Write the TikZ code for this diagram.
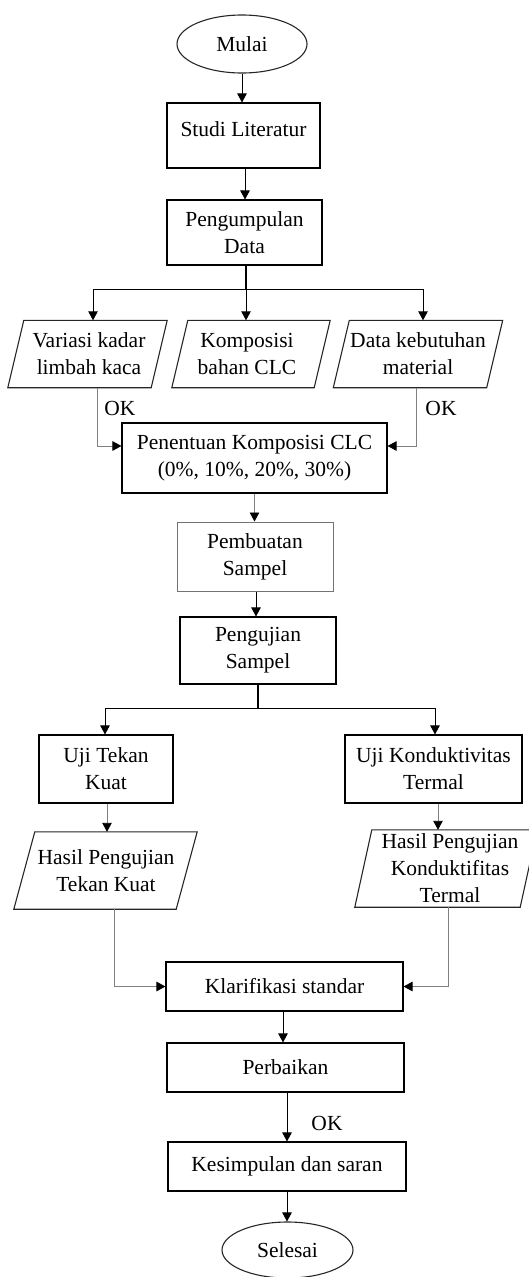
\documentclass[tikz,border=0pt]{standalone}
\usepackage{fontspec}
\setmainfont{Liberation Serif}
\usetikzlibrary{shapes.geometric,arrows.meta}
\newcommand\drawpara[3]{\draw[para] ([xshift=#2+#3]#1.north west) -- ([xshift=#3]#1.north east) -- ([xshift=#3-#2]#1.south east) -- ([xshift=#3]#1.south west) -- cycle;}
\begin{document}
\begin{tikzpicture}[x=1pt,y=-1pt,
  every node/.style={font=\fontsize{21.5}{27}\selectfont, align=center, inner sep=0pt},
  box/.style={draw=black, line width=1.1pt, rectangle},
  gbox/.style={draw=black!55, line width=1pt, rectangle},
  oval/.style={draw=black!85, line width=1.1pt, ellipse, minimum width=130pt, minimum height=58pt},
  pnode/.style={rectangle, draw=none},
  para/.style={draw=black!85, line width=1.1pt},
  tip/.style={-{Triangle[width=9.5pt,length=9pt,color=black]}},
  arr/.style={tip, line width=0.9pt, draw=black},
  garr/.style={tip, line width=0.9pt, draw=black!50},
  thickline/.style={line width=2.2pt, draw=black},
  hline/.style={line width=1.1pt, draw=black}
]
\useasboundingbox (0,0) rectangle (529,1277);

% main column
\node[oval] (mulai) at (242,44) {Mulai};
\node[box, minimum width=153pt, minimum height=65pt, text depth=13pt] (studi) at (243.5,135.5) {Studi Literatur};
\node[box, minimum width=155pt, minimum height=65pt] (peng) at (244.5,232.5) {Pengumpulan\\Data};

% parallelograms row 1
\node[pnode, minimum width=159pt, minimum height=67pt] (v1) at (89,354) {Variasi kadar\\limbah kaca};
\drawpara{v1}{16}{-1.5}
\node[pnode, minimum width=158pt, minimum height=67pt] (v2) at (247,354) {Komposisi\\bahan CLC};
\drawpara{v2}{16}{4}
\node[pnode, minimum width=169pt, minimum height=67pt] (v3) at (418,354) {Data kebutuhan\\material};
\drawpara{v3}{16}{0}

\node[box, minimum width=265pt, minimum height=70pt] (pen) at (254.5,458) {Penentuan Komposisi CLC\\(0\%, 10\%, 20\%, 30\%)};
\node[gbox, minimum width=156pt, minimum height=69pt] (pemb) at (255,556.5) {Pembuatan\\Sampel};
\node[box, minimum width=156pt, minimum height=67pt] (pgj) at (258,650.5) {Pengujian\\Sampel};

\node[box, minimum width=134pt, minimum height=68pt] (ut) at (106,769) {Uji Tekan\\Kuat};
\node[box, minimum width=177pt, minimum height=68pt] (uk) at (433.5,769) {Uji Konduktivitas\\Termal};

\node[pnode, minimum width=183pt, minimum height=77pt] (ht) at (106,870.5) {Hasil Pengujian\\Tekan Kuat};
\drawpara{ht}{21}{-0.5}
\node[pnode, minimum width=182pt, minimum height=77pt] (hk) at (450,868.5) {Hasil Pengujian\\Konduktifitas\\Termal};
\drawpara{hk}{17}{-4}

\node[box, minimum width=237pt, minimum height=49pt] (klar) at (284.5,986.5) {Klarifikasi standar};
\node[box, minimum width=237pt, minimum height=49pt] (perb) at (285.5,1067.5) {Perbaikan};
\node[box, minimum width=238pt, minimum height=49pt] (kes) at (287,1166.5) {Kesimpulan dan saran};
\node[oval, minimum width=131pt, minimum height=56pt] (sel) at (287.5,1250) {Selesai};

% OK labels
\node (ok1) at (120,408) {OK};
\node (ok2) at (441,408) {OK};
\node (ok3) at (327,1123) {OK};

% connectors
\draw[arr] (mulai.south) -- (mulai.south |- studi.north);
\draw[arr] ([xshift=1.5]studi.south) -- ([xshift=1.5]studi.south |- peng.north);
\draw[thickline] ([xshift=1.5]peng.south) -- ++(0,24) coordinate (j1);
\draw[arr] (j1) -| ([xshift=4]v1.north);
\draw[arr] (j1) -| ([xshift=5]v3.north);
\draw[arr] (j1) -- (j1 |- v2.north);

\draw[garr] ([xshift=8]v1.south) |- ([yshift=12]pen.west);
\draw[garr] ([xshift=-2]v3.south) |- ([yshift=12]pen.east);

\draw[garr] (pen.south) -- (pen.south |- pemb.north);
\draw[arr] ([xshift=1]pemb.south) -- ([xshift=1]pemb.south |- pgj.north);
\draw[thickline] (pgj.south) -- ++(0,24) coordinate (j2);
\draw[arr] (j2) -| ([xshift=-1]ut.north);
\draw[arr] (j2) -| ([xshift=1.5]uk.north);

\draw[garr] ([xshift=1]ut.south) -- ([xshift=1]ut.south |- ht.north);
\draw[garr] ([xshift=4.5]uk.south) -- ([xshift=4.5]uk.south |- hk.north);

\draw[garr] ([xshift=8]ht.south) |- (klar.west);
\draw[garr] ([xshift=-2]hk.south) |- (klar.east);

\draw[arr] ([xshift=-1.5]klar.south) -- ([xshift=-1.5]klar.south |- perb.north);
\draw[arr] ([xshift=1.5]perb.south) -- ([xshift=1.5]perb.south |- kes.north);
\draw[arr] (kes.south) -- (kes.south |- sel.north);
\end{tikzpicture}
\end{document}
